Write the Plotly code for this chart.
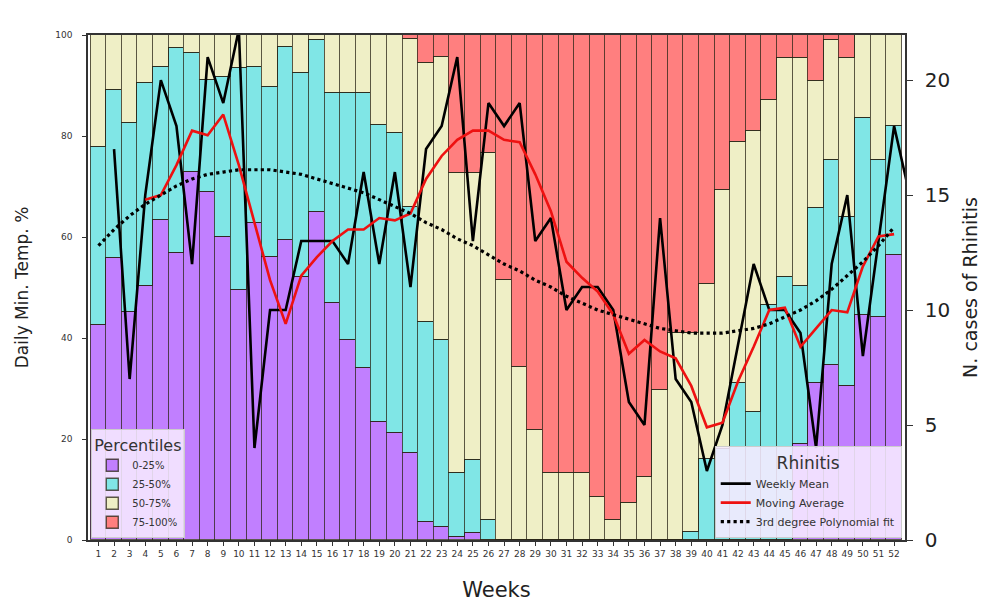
import plotly.graph_objects as go

# ---------------- data ----------------
weeks = list(range(1, 53))

# share of days per percentile class (%), stacked to 100
pct_0_25 = [42.5, 55.8, 45.2, 50.2, 63.4, 56.8, 72.9, 69.0, 60.1, 49.5,
            62.7, 56.1, 59.4, 52.1, 65.0, 46.9, 39.6, 34.0, 23.4, 21.1,
            17.2, 3.6, 2.6, 0.5, 1.4, 0.0, 0.0, 0.0, 0.0, 0.0,
            0.0, 0.0, 0.0, 0.0, 0.0, 0.0, 0.0, 0.0, 0.0, 0.0,
            0.0, 0.0, 0.0, 0.0, 0.0, 19.1, 31.0, 34.7, 30.5, 44.5,
            44.2, 56.4]
pct_25_50 = [35.3, 33.3, 37.3, 40.2, 30.3, 40.7, 23.5, 22.0, 31.6, 43.9,
             31.0, 33.7, 38.3, 40.3, 34.0, 41.7, 49.0, 54.6, 58.8, 59.4,
             48.8, 39.6, 37.0, 12.7, 14.4, 4.0, 0.0, 0.0, 0.0, 0.0,
             0.0, 0.0, 0.0, 0.0, 0.0, 0.0, 0.0, 0.0, 1.5, 16.0,
             18.0, 31.0, 25.4, 46.5, 52.1, 31.1, 34.7, 40.5, 33.5, 39.0,
             31.0, 25.6]
pct_50_75 = [22.2, 10.9, 17.5, 9.6, 6.3, 2.5, 3.6, 9.0, 8.3, 6.6,
             6.3, 10.2, 2.3, 7.6, 1.0, 11.4, 11.4, 11.4, 17.8, 19.5,
             33.3, 51.2, 56.1, 59.4, 56.8, 72.6, 51.5, 34.3, 21.8, 13.2,
             13.2, 13.2, 8.6, 4.0, 7.3, 12.4, 29.8, 41.0, 39.5, 34.7,
             51.3, 47.9, 55.5, 40.6, 43.3, 45.2, 25.1, 23.8, 31.4, 16.5,
             24.8, 18.0]
pct_75_100 = [0.0, 0.0, 0.0, 0.0, 0.0, 0.0, 0.0, 0.0, 0.0, 0.0,
              0.0, 0.0, 0.0, 0.0, 0.0, 0.0, 0.0, 0.0, 0.0, 0.0,
              0.7, 5.6, 4.3, 27.4, 27.4, 23.4, 48.5, 65.7, 78.2, 86.8,
              86.8, 86.8, 91.4, 96.0, 92.7, 87.6, 70.2, 59.0, 59.0, 49.3,
              30.7, 21.1, 19.1, 12.9, 4.6, 4.6, 9.2, 1.0, 4.6, 0.0,
              0.0, 0.0]

# Rhinitis cases
mean_weeks = list(range(2, 54))
weekly_mean = [17, 7, 15, 20, 18, 12, 21, 19, 22.2, 4,
               10, 10, 13, 13, 13, 12, 16, 12, 16, 11,
               17, 18, 21, 13, 19, 18, 19, 13, 14, 10,
               11, 11, 10, 6, 5, 14, 7, 6, 3, 5,
               8.5, 12, 10, 10, 9, 4, 12, 15, 8, 13,
               18, 15]

ma_weeks = list(range(4, 53))
moving_avg = [14.8, 15.0, 16.3, 17.8, 17.6, 18.5, 16.3, 13.8, 11.3, 9.4,
              11.5, 12.3, 13.0, 13.5, 13.5, 14.0, 13.9, 14.2, 15.7, 16.7,
              17.4, 17.8, 17.8, 17.4, 17.3, 15.9, 14.3, 12.1, 11.4, 10.8,
              9.8, 8.1, 8.7, 8.2, 7.9, 6.7, 4.9, 5.1, 6.9, 8.4,
              10.0, 10.1, 8.4, 9.2, 10.0, 9.9, 11.9, 13.2, 13.3]

poly_fit = [12.8, 13.5, 14.1, 14.6, 15.0, 15.4, 15.7, 15.9, 16.0, 16.1,
            16.1, 16.1, 16.0, 15.9, 15.7, 15.5, 15.3, 15.1, 14.8, 14.5,
            14.2, 13.8, 13.5, 13.1, 12.8, 12.4, 12.0, 11.7, 11.3, 11.0,
            10.6, 10.3, 10.0, 9.8, 9.6, 9.4, 9.2, 9.1, 9.0, 9.0,
            9.0, 9.1, 9.2, 9.4, 9.7, 10.0, 10.4, 10.9, 11.5, 12.1,
            12.8, 13.6]

left_ticks = [0, 20, 40, 60, 80, 100]
right_ticks = [0, 5, 10, 15, 20]

# ---------------- figure ----------------
FONT = "DejaVu Sans"
fig = go.Figure()

bar_specs = [
    ("0-25%", pct_0_25, "#c17fff"),
    ("25-50%", pct_25_50, "#80e6e6"),
    ("50-75%", pct_50_75, "#efefc6"),
    ("75-100%", pct_75_100, "#ff7f7f"),
]
for name, vals, col in bar_specs:
    fig.add_trace(go.Bar(
        x=weeks, y=vals, name=name,
        marker=dict(color=col, line=dict(color="rgba(40,35,20,0.75)", width=1.4)),
        legend="legend", yaxis="y",
    ))

fig.add_trace(go.Scatter(
    x=mean_weeks, y=weekly_mean, name="Weekly Mean", mode="lines",
    line=dict(color="black", width=2.6), yaxis="y2", legend="legend2",
))
fig.add_trace(go.Scatter(
    x=ma_weeks, y=moving_avg, name="Moving Average", mode="lines",
    line=dict(color="#ee1111", width=2.6), yaxis="y2", legend="legend2",
))
fig.add_trace(go.Scatter(
    x=weeks, y=poly_fit, name="3rd degree Polynomial fit", mode="lines",
    line=dict(color="black", width=3.2, dash="dot"), yaxis="y2", legend="legend2",
))

# the page body has an 8px margin, so the figure is sized/offset to compensate
fig.update_layout(
    width=981, height=597,
    margin=dict(l=80, r=84, t=27, b=65, autoexpand=False),
    paper_bgcolor="white", plot_bgcolor="white",
    barmode="stack", bargap=0,
    font=dict(family=FONT, color="#222"),
    showlegend=True,
    xaxis=dict(
        range=[0.33, 52.7], tickvals=weeks, ticktext=[str(w) for w in weeks],
        tickangle=0, tickfont=dict(size=9, color="#333"),
        ticks="outside", ticklen=4, tickcolor="#333", automargin=False,
        showline=True, linecolor="#333", linewidth=1.5, mirror=True,
        showgrid=False, zeroline=False,
        title=dict(text="Weeks", font=dict(size=21, color="#222"), standoff=25),
    ),
    yaxis=dict(
        range=[0, 100], tickvals=left_ticks, tickfont=dict(size=9, color="#333"),
        ticks="outside", ticklen=4, tickcolor="#333", ticklabelstandoff=8,
        showline=True, linecolor="#333", linewidth=1.5, mirror=False,
        showgrid=False, zeroline=False, automargin=False,
        title=dict(text="Daily Min. Temp. %", font=dict(size=17, color="#222"), standoff=22),
    ),
    yaxis2=dict(
        range=[0, 21.96], tickvals=right_ticks, overlaying="y", side="right",
        tickfont=dict(size=20, color="#222"),
        ticks="outside", ticklen=6, tickcolor="#333", ticklabelstandoff=8,
        showline=True, linecolor="#333", linewidth=1.5, automargin=False,
        showgrid=False, zeroline=False,
        title=dict(text="N. cases of Rhinitis", font=dict(size=19, color="#222"), standoff=14),
    ),
    legend=dict(
        x=0.004, y=0.004, xanchor="left", yanchor="bottom",
        bgcolor="rgba(246,235,255,0.88)", bordercolor="#cccccc", borderwidth=1,
        title=dict(text="Percentiles", font=dict(size=16, color="#333")),
        font=dict(size=10, color="#333"), traceorder="normal",
        tracegroupgap=0, itemwidth=30,
    ),
    legend2=dict(
        x=0.996, y=0.004, xanchor="right", yanchor="bottom",
        bgcolor="rgba(246,235,255,0.88)", bordercolor="#cccccc", borderwidth=1,
        title=dict(text="Rhinitis", font=dict(size=17, color="#333"), side="top center"),
        font=dict(size=11, color="#333"), traceorder="normal",
    ),
)

fig.write_html("out.html")
